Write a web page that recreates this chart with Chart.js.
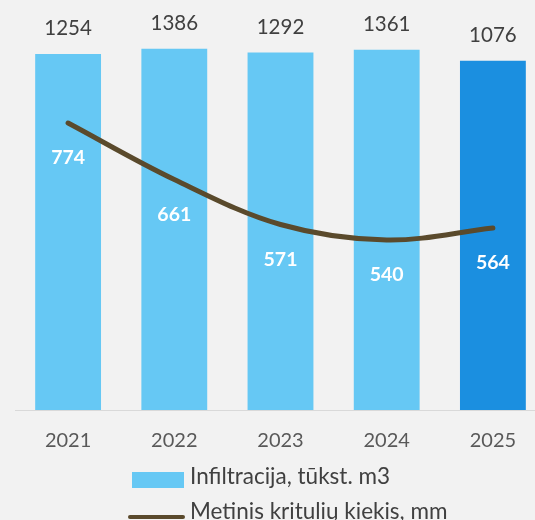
<!DOCTYPE html>
<html>
<head>
<meta charset="utf-8">
<script src="https://cdn.jsdelivr.net/npm/chart.js@4"></script>
<style>
    html, body { margin: 0; padding: 0; overflow: hidden; background: #f2f2f2; }
    body { width: 535px; height: 520px; position: relative; font-family: Lato, "Open Sans", sans-serif; }
    #wrap { position: absolute; left: 0; top: 0; width: 560px; height: 480px; }
    .lg-item { position: absolute; left: 190px; color: #404040; font-size: 22.5px; line-height: 27px; white-space: nowrap; }
    .lg-mark { position: absolute; }
</style>
</head>
<body>
<div id="wrap"><canvas id="chart" width="560" height="480"></canvas></div>
<div id="legend"></div>
<script>
// --- DATA ---
const years = ['2021', '2022', '2023', '2024', '2025'];
const infiltration = [1254, 1386, 1292, 1361, 1076];     // tūkst. m3
const rainfall = [774, 661, 571, 540, 564];              // mm
const seriesNames = ['Infiltracija, tūkst. m3', 'Metinis kritulių kiekis, mm'];

// --- STYLE ---
const LIGHT_BLUE = '#66c8f4';
const DARK_BLUE = '#1b8fe0';
const LINE_BROWN = '#5a4a2c';
const TEXT_DARK = '#404040';

// axis ranges (bar axis is not zero based in the original picture)
const BAR_MIN = -7924;
const BAR_MAX = 2386;

const barColors = years.map((y, i) => i === years.length - 1 ? DARK_BLUE : LIGHT_BLUE);

// labels above bars / under line points
const valueLabels = {
    id: 'valueLabels',
    afterDatasetsDraw(chart) {
        const ctx = chart.ctx;
        ctx.save();
        ctx.textAlign = 'center';
        ctx.textBaseline = 'middle';

        ctx.font = '20.5px Lato';
        ctx.fillStyle = TEXT_DARK;
        chart.getDatasetMeta(0).data.forEach((bar, i) => {
            ctx.fillText(infiltration[i], bar.x, bar.y - 25.5);
        });

        ctx.font = 'bold 19.5px Lato';
        ctx.fillStyle = '#ffffff';
        chart.getDatasetMeta(1).data.forEach((pt, i) => {
            ctx.fillText(rainfall[i], pt.x, pt.y + 35);
        });
        ctx.restore();
    }
};

const chart = new Chart(document.getElementById('chart'), {
    type: 'bar',
    data: {
        labels: years,
        datasets: [
            {
                type: 'bar', label: seriesNames[0], data: infiltration,
                backgroundColor: barColors, base: BAR_MIN, yAxisID: 'y',
                categoryPercentage: 1, barPercentage: 0.62, order: 2
            },
            {
                type: 'line', label: seriesNames[1], data: rainfall,
                borderColor: LINE_BROWN, borderWidth: 5, tension: 0.35,
                pointRadius: 0, borderCapStyle: 'round', yAxisID: 'y2', order: 1
            }
        ]
    },
    options: {
        responsive: false, animation: false,
        layout: { padding: { left: 15, right: 14, top: 10, bottom: 8 } },
        plugins: { legend: { display: false }, tooltip: { enabled: false } },
        scales: {
            x: {
                grid: { display: false, drawTicks: false },
                border: { display: true, color: '#d9d9d9', width: 1 },
                ticks: { color: '#595959', padding: 19, font: { family: 'Lato', size: 20 } }
            },
            y: { display: false, min: BAR_MIN, max: BAR_MAX },
            y2: { display: false, min: 200, max: 1000 }
        }
    },
    plugins: [valueLabels]
});

// --- HTML legend ---
const legendEl = document.getElementById('legend');
legendEl.innerHTML = `
    <div class="lg-item" style="top:462px">
        <span class="lg-mark" style="left:-58px;top:9.5px;width:52px;height:16.5px;background:${LIGHT_BLUE}"></span>${seriesNames[0]}
    </div>
    <div class="lg-item" style="top:497px">
        <span class="lg-mark" style="left:-62px;top:18px;width:57px;height:4px;border-radius:2px;background:${LINE_BROWN}"></span>${seriesNames[1]}
    </div>
`;
</script>
</body>
</html>
